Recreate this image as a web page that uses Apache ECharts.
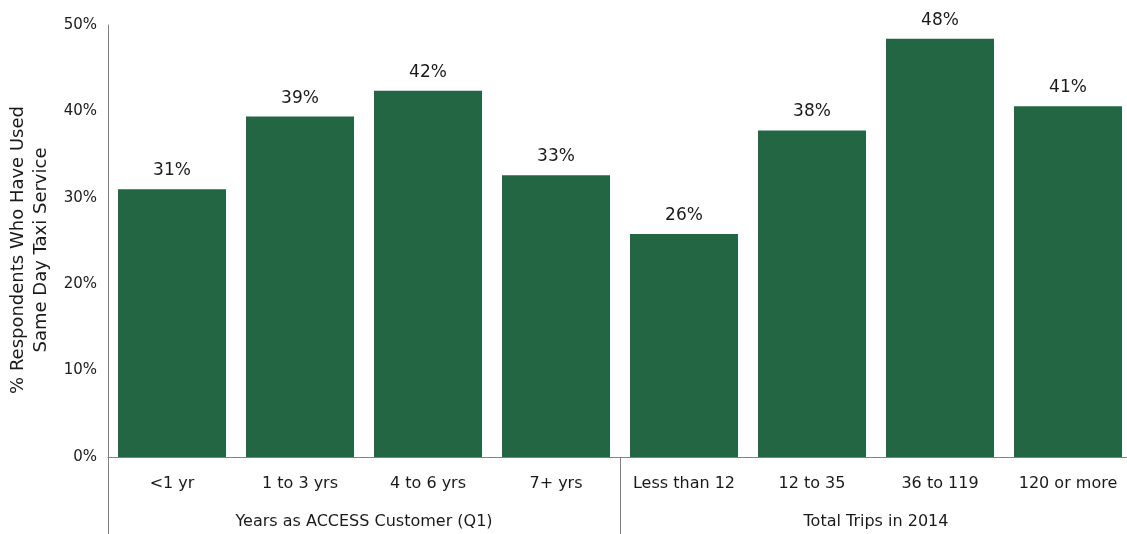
<!DOCTYPE html>
<html><head><meta charset="utf-8">
<script src="https://cdn.jsdelivr.net/npm/echarts@6/dist/echarts.min.js"></script>
<style>html,body{margin:0;padding:0;background:#fff}#c{width:1127px;height:534px}</style>
</head><body><div id="c"></div>
<script>
const categories = ['<1 yr','1 to 3 yrs','4 to 6 yrs','7+ yrs','Less than 12','12 to 35','36 to 119','120 or more'];
const groups = ['Years as ACCESS Customer (Q1)','Total Trips in 2014'];
const values = [31.0, 39.4, 42.4, 32.6, 25.8, 37.8, 48.4, 40.6];
const yTicks = [0, 10, 20, 30, 40, 50];

const FONT = 'DejaVu Sans';
const AX = '#808080';
const chart = echarts.init(document.getElementById('c'));
chart.setOption({
  animation: false,
  textStyle: { fontFamily: FONT },
  grid: { left: 108, top: 25, width: 1024, height: 432, outerBoundsMode: 'none', containLabel: false },
  xAxis: [{
    type: 'category', data: categories, position: 'bottom',
    axisLine: { show: true, lineStyle: { color: AX, width: 1 } },
    axisTick: { show: false },
    axisLabel: { color: '#1a1a1a', fontSize: 16, margin: 19, interval: 0, fontFamily: FONT }
  }, {
    type: 'category', data: groups, position: 'bottom', gridIndex: 0,
    axisLine: { show: false },
    axisTick: { show: true, length: 77, lineStyle: { color: AX, width: 1 }, interval: 0 },
    axisLabel: { color: '#1a1a1a', fontSize: 16, margin: 57, interval: 0, fontFamily: FONT }
  }],
  yAxis: {
    type: 'value', min: yTicks[0], max: yTicks[yTicks.length-1], interval: 10,
    name: '% Respondents Who Have Used\nSame Day Taxi Service',
    nameLocation: 'middle', nameRotate: 90, nameGap: 55,
    nameTextStyle: { color: '#1a1a1a', fontSize: 18, lineHeight: 23, fontFamily: FONT, padding: [0, 18, 0, 0] },
    axisLine: { show: true, lineStyle: { color: AX, width: 1 } },
    axisTick: { show: false },
    splitLine: { show: false },
    axisLabel: { color: '#1a1a1a', fontSize: 15, margin: 11, formatter: v => v + '%', fontFamily: FONT }
  },
  series: [{
    type: 'bar', data: values, barWidth: 108, xAxisIndex: 0,
    itemStyle: { color: '#236643' },
    label: { show: true, position: 'top', distance: 10, color: '#1a1a1a', fontSize: 17, fontFamily: FONT,
      formatter: p => Math.round(p.value) + '%' }
  }]
});
</script></body></html>
